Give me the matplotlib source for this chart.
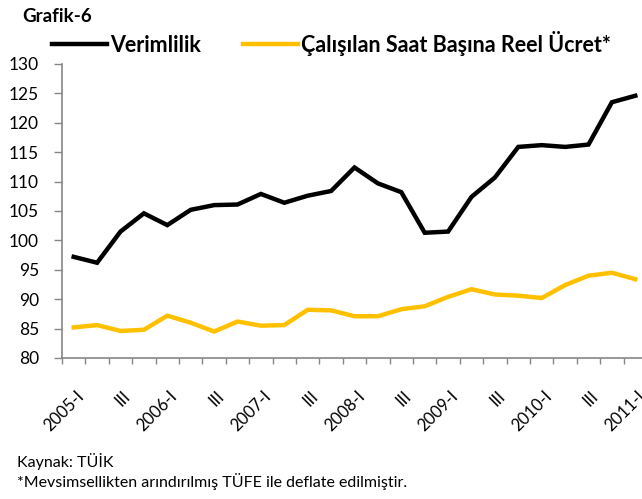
import matplotlib
matplotlib.use("Agg")
import matplotlib.pyplot as plt
import matplotlib.transforms as mtrans
import numpy as np

plt.rcParams['font.family'] = ['Lato', 'DejaVu Sans']

# quarterly, 2005-I .. 2011-I
quarters = ["2005-I", "II", "III", "IV", "2006-I", "II", "III", "IV",
            "2007-I", "II", "III", "IV", "2008-I", "II", "III", "IV",
            "2009-I", "II", "III", "IV", "2010-I", "II", "III", "IV", "2011-I"]

verimlilik = [97.2, 96.2, 101.5, 104.6, 102.6, 105.2, 106.0, 106.1, 107.9, 106.4,
              107.6, 108.4, 112.4, 109.7, 108.2, 101.3, 101.5, 107.4, 110.7, 115.9,
              116.2, 115.9, 116.3, 123.5, 124.6]

reel_ucret = [85.2, 85.6, 84.6, 84.8, 87.2, 86.0, 84.5, 86.2, 85.5, 85.6,
              88.2, 88.1, 87.1, 87.1, 88.3, 88.8, 90.4, 91.7, 90.8, 90.6,
              90.2, 92.4, 94.0, 94.5, 93.4]

yticks = [80, 85, 90, 95, 100, 105, 110, 115, 120, 125, 130]

gray = "#868686"
x = np.arange(len(quarters))

fig = plt.figure(figsize=(6.42, 4.99), dpi=100)
ax = fig.add_axes([62 / 642, 141 / 499, 585 / 642, 294 / 499])

l1, = ax.plot(x, verimlilik, color="black", lw=3.2, solid_joinstyle="miter")
l2, = ax.plot(x, reel_ucret, color="#FFC000", lw=3.2, solid_joinstyle="miter")

ax.set_xlim(-0.5, len(quarters) - 0.5)
ax.set_ylim(80, 130)
ax.set_yticks(yticks)
ax.set_yticklabels([str(v) for v in yticks], fontsize=12.5)

# labels every second quarter, tick marks at category borders
ax.set_xticks(x[::2])
ax.set_xticklabels([q for q in quarters[::2]], rotation=45, ha="right",
                   rotation_mode="anchor", fontsize=12)
ax.tick_params(axis="x", which="major", length=0, pad=21.5)
shift = mtrans.ScaledTranslation(2 / 100, 0, fig.dpi_scale_trans)
for lab in ax.get_xticklabels():
    lab.set_transform(lab.get_transform() + shift)
ax.set_xticks(np.arange(-0.5, len(quarters), 1), minor=True)
ax.tick_params(axis="x", which="minor", length=4.5, color=gray, width=1)
ax.tick_params(axis="y", length=5.5, color=gray, width=1, pad=11)

for s in ["top", "right"]:
    ax.spines[s].set_visible(False)
for s in ["left", "bottom"]:
    ax.spines[s].set_color(gray)
    ax.spines[s].set_linewidth(1.2)

fig.text(22 / 642, 1 - 17 / 499, "Grafik-6", fontsize=13.5, fontweight="bold",
         va="center", ha="left")

fig.legend([l1, l2], ["Verimlilik", "Çalışılan Saat Başına Reel Ücret*"],
           loc="center left", bbox_to_anchor=(52 / 642, 1 - 43 / 499),
           ncol=2, frameon=False, handlelength=2.55, handletextpad=0.15,
           columnspacing=1.95, borderaxespad=0, borderpad=0,
           prop={"weight": "bold", "size": 15.5})

fig.text(17 / 642, 1 - 462 / 499, "Kaynak: TÜİK", fontsize=11.5, va="center")
fig.text(17 / 642, 1 - 481 / 499,
         "*Mevsimsellikten arındırılmış TÜFE ile deflate edilmiştir.",
         fontsize=11.5, va="center")

fig.savefig("out.png", dpi=100)
